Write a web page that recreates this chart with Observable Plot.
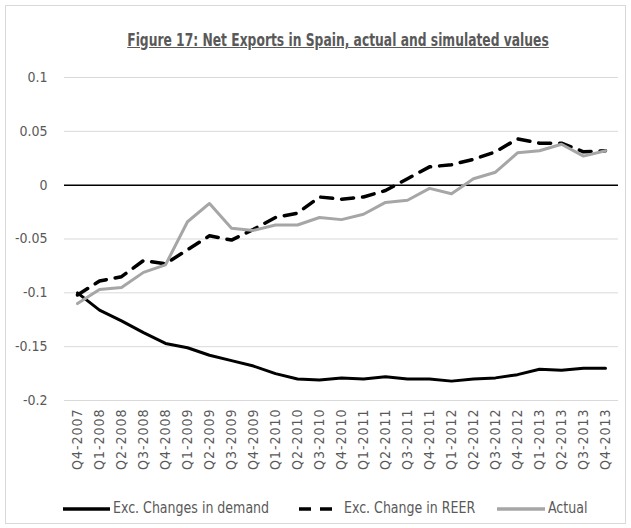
<!DOCTYPE html>
<html><head><meta charset="utf-8">
<script src="https://cdn.jsdelivr.net/npm/d3@7"></script>
<script src="https://cdn.jsdelivr.net/npm/@observablehq/plot@0.6"></script>
<style>
body{margin:0;background:#fff;width:631px;height:528px;overflow:hidden;}
#frame{position:absolute;left:5px;top:5px;width:621px;height:519px;border:1px solid #d9d9d9;box-sizing:border-box;}
#title{position:absolute;left:0;top:29px;width:676px;text-align:center;font-family:"DejaVu Sans Condensed",sans-serif;font-weight:bold;font-size:18px;color:#595959;text-decoration:underline;transform:scaleX(0.76);transform-origin:338px 0;}
#chart{position:absolute;left:0;top:0;}
.leg{position:absolute;top:498px;font-family:"DejaVu Sans Condensed",sans-serif;font-size:16px;color:#595959;white-space:nowrap;}
.leg svg{vertical-align:middle;}
.leg span{display:inline-block;transform:scaleX(0.875);transform-origin:0 50%;margin-left:3px;}
</style></head>
<body>
<div id="frame"></div>
<div id="chart"></div>
<div id="title">Figure 17: Net Exports in Spain, actual and simulated values</div>
<div id="legend"></div>
<script>
const quarters = ["Q4-2007","Q1-2008","Q2-2008","Q3-2008","Q4-2008","Q1-2009","Q2-2009","Q3-2009","Q4-2009","Q1-2010","Q2-2010","Q3-2010","Q4-2010","Q1-2011","Q2-2011","Q3-2011","Q4-2011","Q1-2012","Q2-2012","Q3-2012","Q4-2012","Q1-2013","Q2-2013","Q3-2013","Q4-2013"];
const demand = [-0.100,-0.116,-0.126,-0.137,-0.147,-0.151,-0.158,-0.163,-0.168,-0.175,-0.180,-0.181,-0.179,-0.180,-0.178,-0.180,-0.180,-0.182,-0.180,-0.179,-0.176,-0.171,-0.172,-0.170,-0.170];
const reer = [-0.102,-0.089,-0.085,-0.070,-0.073,-0.060,-0.047,-0.051,-0.041,-0.030,-0.026,-0.011,-0.013,-0.011,-0.005,0.006,0.017,0.019,0.024,0.031,0.043,0.039,0.039,0.031,0.032];
const actual = [-0.110,-0.097,-0.095,-0.081,-0.074,-0.034,-0.017,-0.040,-0.042,-0.037,-0.037,-0.030,-0.032,-0.027,-0.016,-0.014,-0.003,-0.008,0.006,0.012,0.030,0.032,0.038,0.027,0.032];
const yTicks = [0.1,0.05,0,-0.05,-0.1,-0.15,-0.2];
const yTickLabels = ["0.1","0.05","0","-0.05","-0.1","-0.15","-0.2"];
const seriesNames = ["Exc. Changes in demand","Exc. Change in REER","Actual"];

const font = '"DejaVu Sans Condensed",sans-serif';
const chart = Plot.plot({
  width: 631, height: 480,
  marginTop: 77, marginBottom: 80, marginLeft: 64, marginRight: 13,
  x: {type: "point", domain: quarters, padding: 0.5, label: null},
  y: {domain: [-0.2, 0.1], label: null},
  style: {fontFamily: font, fontSize: "14px", color: "#595959", background: "transparent"},
  marks: [
    Plot.ruleY(yTicks.filter(d => d !== 0), {stroke: "#d9d9d9", strokeWidth: 1}),
    Plot.ruleY([0], {stroke: "#000", strokeWidth: 1.5}),
    Plot.axisY(yTicks, {tickSize: 0, tickPadding: 17, tickFormat: d => yTickLabels[yTicks.indexOf(d)], fontSize: 14, label: null}),
    Plot.axisX({tickSize: 0, tickRotate: -90, tickPadding: 8, fontSize: 14, label: null}),
    Plot.line(quarters, {x: d => d, y: (d, i) => demand[i], stroke: "#000", strokeWidth: 3}),
    Plot.line(quarters, {x: d => d, y: (d, i) => reer[i], stroke: "#000", strokeWidth: 3.5, strokeDasharray: "12,9"}),
    Plot.line(quarters, {x: d => d, y: (d, i) => actual[i], stroke: "#a6a6a6", strokeWidth: 3})
  ]
});
d3.select(chart).selectAll("g[aria-label='x-axis tick label'] text").style("letter-spacing", "1px");
document.getElementById("chart").appendChild(chart);

const legendSpec = [
  {name: seriesNames[0], left: 63, stroke: "#000", dash: null, w: 47},
  {name: seriesNames[1], left: 299, stroke: "#000", dash: "12,9", w: 42},
  {name: seriesNames[2], left: 497, stroke: "#a6a6a6", dash: null, w: 48}
];
const leg = document.getElementById("legend");
legendSpec.forEach(s => {
  const div = document.createElement("div");
  div.className = "leg";
  div.style.left = s.left + "px";
  div.innerHTML = `<svg width="${s.w}" height="10"><line x1="0" y1="5" x2="${s.w}" y2="5" stroke="${s.stroke}" stroke-width="3.5" ${s.dash ? `stroke-dasharray="${s.dash}"` : ""}/></svg><span>${s.name}</span>`;
  leg.appendChild(div);
});
</script>
</body></html>
